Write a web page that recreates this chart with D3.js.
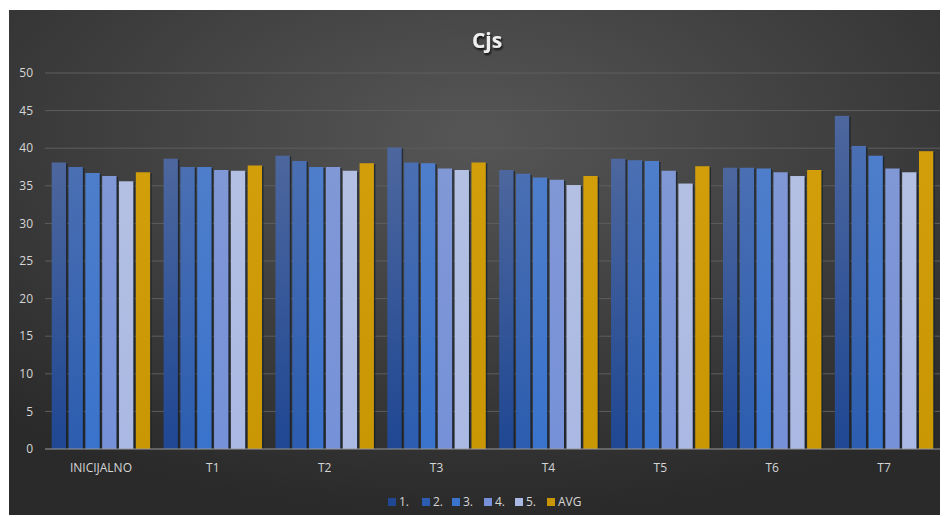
<!DOCTYPE html>
<html>
<head>
<meta charset="utf-8">
<script src="https://cdn.jsdelivr.net/npm/d3@7"></script>
<style>
html,body{margin:0;padding:0;background:#fff;}
svg{display:block;}
text{font-family:"Open Sans","Noto Sans",sans-serif;}
</style>
</head>
<body>
<svg id="chart" width="944" height="517"></svg>
<script>
const categories = ["INICIJALNO","T1","T2","T3","T4","T5","T6","T7"];
const seriesNames = ["1.","2.","3.","4.","5.","AVG"];
const s1  = [38.1, 38.6, 39.0, 40.1, 37.1, 38.6, 37.4, 44.3];
const s2  = [37.5, 37.5, 38.3, 38.1, 36.6, 38.4, 37.4, 40.3];
const s3  = [36.7, 37.5, 37.5, 38.0, 36.1, 38.3, 37.3, 39.0];
const s4  = [36.3, 37.1, 37.5, 37.3, 35.8, 37.0, 36.8, 37.3];
const s5  = [35.6, 37.0, 37.0, 37.1, 35.1, 35.3, 36.3, 36.8];
const avg = [36.8, 37.7, 38.0, 38.1, 36.3, 37.6, 37.1, 39.6];
const yTicks = [0,5,10,15,20,25,30,35,40,45,50];

const seriesValues = [s1,s2,s3,s4,s5,avg];
const colorsTop = ["#4d679e","#4a6fb3","#4e7ecb","#8198d6","#b4c0e3","#d29e0a"];
const colorsBot = ["#1f4793","#2c5db0","#3a73cc","#7691d8","#aab9e3","#c99604"];

const svg = d3.select("#chart");
const defs = svg.append("defs");

// background
const bg = defs.append("radialGradient").attr("id","bg")
  .attr("cx","50%").attr("cy","25%").attr("r","75%");
bg.append("stop").attr("offset","0%").attr("stop-color","#565656");
bg.append("stop").attr("offset","100%").attr("stop-color","#2a2a2a");
svg.append("rect").attr("x",9).attr("y",10).attr("width",931).attr("height",505)
  .attr("fill","url(#bg)");

seriesNames.forEach((n,i)=>{
  const g = defs.append("linearGradient").attr("id","g"+i)
    .attr("x1",0).attr("y1",0).attr("x2",0).attr("y2",1);
  g.append("stop").attr("offset","0%").attr("stop-color",colorsTop[i]);
  g.append("stop").attr("offset","100%").attr("stop-color",colorsBot[i]);
});
const sh = defs.append("filter").attr("id","tshadow").attr("x","-20%").attr("y","-20%").attr("width","140%").attr("height","140%");
sh.append("feDropShadow").attr("dx",1).attr("dy",2).attr("stdDeviation",1.2).attr("flood-color","#000").attr("flood-opacity",0.8);

const mLeft = 45, mRight = 940, mTop = 73, mBottom = 449;
const y = d3.scaleLinear().domain([0,50]).range([mBottom, mTop]);
const x0 = d3.scaleBand().domain(categories).range([mLeft, mRight]).paddingInner(0.12).paddingOuter(0.06);
const x1 = d3.scaleBand().domain(seriesNames).range([0, x0.bandwidth()]).paddingInner(0.15);

// gridlines
svg.append("g").selectAll("line").data(yTicks.filter(d=>d>0)).join("line")
  .attr("x1",mLeft).attr("x2",mRight)
  .attr("y1",d=>y(d)).attr("y2",d=>y(d))
  .attr("stroke","#5e5e5e").attr("stroke-width",1);

// y labels
svg.append("g").selectAll("text").data(yTicks).join("text")
  .attr("x",33).attr("y",d=>y(d)).attr("dy","0.35em")
  .attr("text-anchor","end").attr("fill","#d6d6d6").attr("font-size",12)
  .text(d=>d);

// bars
const groups = svg.append("g").selectAll("g").data(categories).join("g")
  .attr("transform",d=>`translate(${x0(d)},0)`);
groups.each(function(cat,ci){
  const g = d3.select(this);
  seriesNames.forEach((s,si)=>{
    const v = seriesValues[si][ci];
    g.append("rect")
      .attr("x",x1(s)+1.5).attr("y",y(v)+1)
      .attr("width",x1.bandwidth()).attr("height",mBottom-y(v)-1)
      .attr("fill","#15202e").attr("opacity",0.75);
    g.append("rect")
      .attr("x",x1(s)).attr("y",y(v))
      .attr("width",x1.bandwidth()).attr("height",mBottom-y(v))
      .attr("fill","url(#g"+si+")");
  });
});

// baseline
svg.append("line").attr("x1",mLeft).attr("x2",mRight).attr("y1",mBottom).attr("y2",mBottom)
  .attr("stroke","#9a9a9a").attr("stroke-width",1.2);

// x labels
svg.append("g").selectAll("text").data(categories).join("text")
  .attr("x",d=>x0(d)+x0.bandwidth()/2).attr("y",472)
  .attr("text-anchor","middle").attr("fill","#d6d6d6").attr("font-size",12)
  .text(d=>d);

// title
svg.append("text").attr("x",487).attr("y",48).attr("text-anchor","middle")
  .attr("fill","#eeeeee").attr("font-size",21).attr("font-weight","bold")
  .attr("filter","url(#tshadow)").text("Cjs");

// legend
const legendX = [388,422,452,484,515,547];
const lg = svg.append("g").selectAll("g").data(seriesNames).join("g")
  .attr("transform",(d,i)=>`translate(${legendX[i]},502)`);
lg.append("rect").attr("x",0).attr("y",-4).attr("width",8).attr("height",8)
  .attr("fill",(d,i)=>colorsBot[i]);
lg.append("text").attr("x",11).attr("y",0).attr("dy","0.35em")
  .attr("fill","#d6d6d6").attr("font-size",12).text(d=>d);
</script>
</body>
</html>
